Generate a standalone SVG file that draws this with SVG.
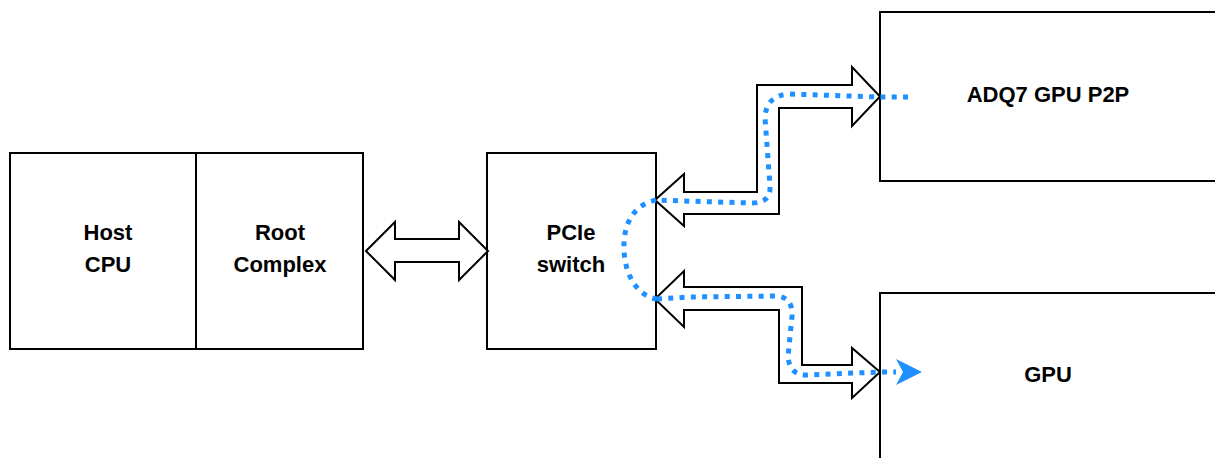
<svg xmlns="http://www.w3.org/2000/svg" width="1215" height="458" viewBox="0 0 1215 458">
<style>
.box{fill:#fff;stroke:#000;stroke-width:2}
.lbl{font-family:"Liberation Sans",Arial,sans-serif;font-weight:bold;font-size:22px;fill:#000;text-anchor:middle}
.arr{fill:#fff;stroke:#000;stroke-width:2;stroke-linejoin:miter}
.flow{fill:none;stroke:#1E90FF;stroke-width:5;stroke-dasharray:5 6.3}
</style>
<defs>
<marker id="blueHead" markerUnits="userSpaceOnUse" markerWidth="30" markerHeight="30" refX="0" refY="13" orient="auto" viewBox="0 0 30 30">
<path d="M0,0 L26,13 L0,26 L7,13 Z" fill="#1E90FF"/>
</marker>
</defs>
<rect width="1215" height="458" fill="#fff"/>
<g id="host-cpu">
<rect class="box" x="10" y="153" width="197" height="196"/>
<text class="lbl" x="108" y="240">Host</text>
<text class="lbl" x="108" y="272">CPU</text>
</g>
<g id="root-complex">
<rect class="box" x="196" y="153" width="167" height="196"/>
<text class="lbl" x="280" y="240">Root</text>
<text class="lbl" x="280" y="272">Complex</text>
</g>
<g id="pcie-switch">
<rect class="box" x="487" y="153" width="169" height="196"/>
<text class="lbl" x="571" y="240">PCIe</text>
<text class="lbl" x="571" y="272">switch</text>
</g>
<g id="adq7">
<rect class="box" x="880" y="12" width="336" height="169"/>
<text class="lbl" x="1048" y="102">ADQ7 GPU P2P</text>
</g>
<g id="gpu">
<rect class="box" x="880" y="293" width="336" height="169"/>
<text class="lbl" x="1048" y="382">GPU</text>
</g>
<g id="connectors">
<polygon class="arr" points="366,251 395,222 395,239 459,239 459,222 488,251 459,280 459,262 395,262 395,280"/>
<polygon class="arr" points="655,200 684,174 684,192 757,192 757,85 852,85 852,67 880,96.5 852,126 852,108 779,108 779,214 684,214 684,226"/>
<polygon class="arr" points="655,299 684,271 684,287 802,287 802,365 852,365 852,348 880,372 852,398 852,383 779,383 779,310 684,310 684,327"/>
<path class="flow" d="M908,97 L880,97 L790,94 Q766,95 765,118 L770,186 Q771,203 752,203 L684,201 L656,200"/>
<path class="flow" d="M656,200 C632,205 623,226 624,250 C625,278 640,297 657,299"/>
<path class="flow" d="M657,299 L690,297 L776,296 Q793,297 792,316 L788,357 Q790,375 806,375 L880,372 L896,372" marker-end="url(#blueHead)"/>
</g>
</svg>
